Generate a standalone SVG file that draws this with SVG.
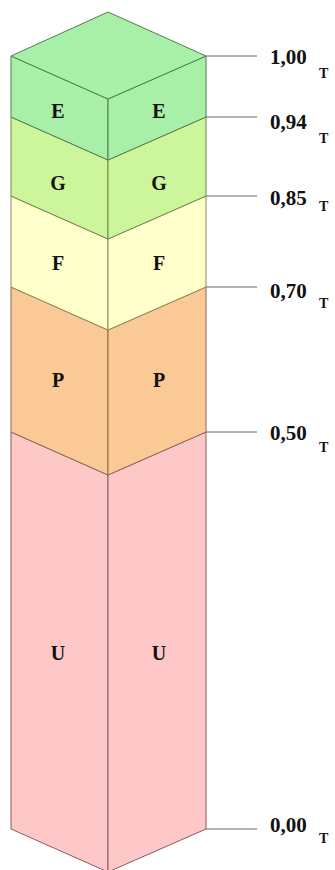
<svg xmlns="http://www.w3.org/2000/svg" width="335" height="870" viewBox="0 0 335 870">
<style>
.e{fill:#a8f0a8;stroke:#4f7d4f;stroke-width:1}
.g{fill:#cdf59c;stroke:#6f8a4a;stroke-width:1}
.f{fill:#ffffcc;stroke:#8a8a5a;stroke-width:1}
.p{fill:#fbc995;stroke:#8a6a4a;stroke-width:1}
.u{fill:#ffc8c8;stroke:#8a5a5a;stroke-width:1}
.lbl{font-family:"Liberation Serif",serif;font-weight:bold;font-size:20px;fill:#111;text-anchor:middle}
.val{font-family:"Liberation Serif",serif;font-weight:bold;font-size:21px;fill:#111}
.sub{font-family:"Liberation Serif",serif;font-weight:bold;font-size:14px;fill:#111}
.tick{stroke:#666;stroke-width:1;fill:none}
</style>
<rect width="335" height="870" fill="#fff"/>
<g id="layer-U">
<polygon class="u" points="11,432 108,475 108,872 11,829"/>
<polygon class="u" points="108,475 206,432 206,829 108,872"/>
<text class="lbl" x="58" y="660">U</text>
<text class="lbl" x="159" y="660">U</text>
</g>
<g id="layer-P">
<polygon class="p" points="11,287 108,330 108,475 11,432"/>
<polygon class="p" points="108,330 206,287 206,432 108,475"/>
<text class="lbl" x="58" y="387">P</text>
<text class="lbl" x="159" y="387">P</text>
</g>
<g id="layer-F">
<polygon class="f" points="11,196 108,239 108,330 11,287"/>
<polygon class="f" points="108,239 206,196 206,287 108,330"/>
<text class="lbl" x="58" y="270">F</text>
<text class="lbl" x="159" y="270">F</text>
</g>
<g id="layer-G">
<polygon class="g" points="11,117 108,160 108,239 11,196"/>
<polygon class="g" points="108,160 206,117 206,196 108,239"/>
<text class="lbl" x="58" y="190">G</text>
<text class="lbl" x="159" y="190">G</text>
</g>
<g id="layer-E">
<polygon class="e" points="11,56 108,99 108,160 11,117"/>
<polygon class="e" points="108,99 206,56 206,117 108,160"/>
<polygon class="e" points="108,12 206,56 108,99 11,56"/>
<text class="lbl" x="58" y="118">E</text>
<text class="lbl" x="159" y="118">E</text>
</g>
<g id="connectors">
<line class="tick" x1="206" y1="56" x2="257" y2="56"/>
<line class="tick" x1="206" y1="117" x2="257" y2="117"/>
<line class="tick" x1="206" y1="196" x2="257" y2="196"/>
<line class="tick" x1="206" y1="287" x2="257" y2="287"/>
<line class="tick" x1="206" y1="432" x2="257" y2="432"/>
<line class="tick" x1="206" y1="829" x2="257" y2="829"/>
</g>
<g id="label-100"><text class="val" x="270" y="64">1,00</text><text class="sub" x="319" y="78">T</text></g>
<g id="label-094"><text class="val" x="270" y="129">0,94</text><text class="sub" x="319" y="143">T</text></g>
<g id="label-085"><text class="val" x="270" y="205">0,85</text><text class="sub" x="319" y="211">T</text></g>
<g id="label-070"><text class="val" x="270" y="298">0,70</text><text class="sub" x="319" y="308">T</text></g>
<g id="label-050"><text class="val" x="270" y="440">0,50</text><text class="sub" x="319" y="452">T</text></g>
<g id="label-000"><text class="val" x="270" y="832">0,00</text><text class="sub" x="319" y="843">T</text></g>
</svg>
